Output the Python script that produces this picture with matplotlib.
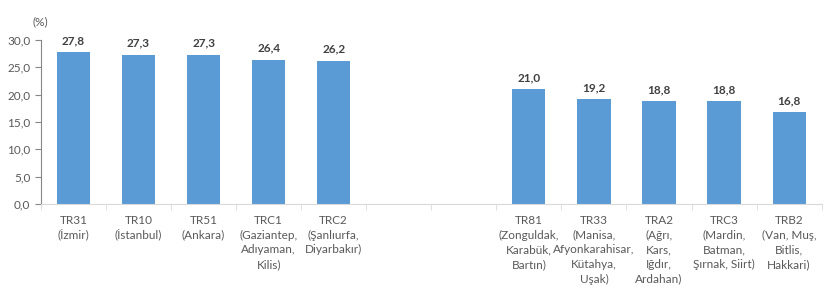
import numpy as np
import matplotlib.pyplot as plt
from matplotlib.ticker import FuncFormatter, FixedLocator

plt.rcParams['font.family'] = ['Lato', 'DejaVu Sans']

# data
labels = ['TR31\n(İzmir)', 'TR10\n(İstanbul)', 'TR51\n(Ankara)',
          'TRC1\n(Gaziantep,\nAdıyaman,\nKilis)', 'TRC2\n(Şanlıurfa,\nDiyarbakır)',
          '', '',
          'TR81\n(Zonguldak,\nKarabük,\nBartın)',
          'TR33\n(Manisa,\nAfyonkarahisar,\nKütahya,\nUşak)',
          'TRA2\n(Ağrı,\nKars,\nIğdır,\nArdahan)',
          'TRC3\n(Mardin,\nBatman,\nŞırnak, Siirt)',
          'TRB2\n(Van, Muş,\nBitlis,\nHakkari)']
values = [27.8, 27.3, 27.3, 26.4, 26.2, None, None, 21.0, 19.2, 18.8, 18.8, 16.8]

fig = plt.figure(figsize=(8.35, 2.94), dpi=100)
ax = fig.add_axes([0.049, 0.306, 0.935, 0.558])

x = np.arange(len(labels))
for xi, v in zip(x, values):
    if v is None:
        continue
    ax.bar(xi, v, width=0.51, color='#5B9BD5')
    ax.text(xi, v + 1.1, f'{v:.1f}'.replace('.', ','), ha='center', va='bottom',
            fontsize=8.5, fontweight='bold', color='#404040')

ax.set_xlim(-0.5, len(labels) - 0.5)
ax.set_ylim(0, 30)
ax.set_yticks(np.arange(0, 30.1, 5))
ax.yaxis.set_major_formatter(FuncFormatter(lambda v, p: f'{v:.1f}'.replace('.', ',')))

ax.set_xticks(x)
ax.set_xticklabels(labels, fontsize=8.5, color='#595959', linespacing=1.4)
ax.xaxis.set_minor_locator(FixedLocator(np.arange(-0.5, len(labels), 1)))
ax.tick_params(axis='x', which='major', length=0, pad=8)
ax.tick_params(axis='x', which='minor', length=4, color='#D9D9D9')
ax.tick_params(axis='y', length=4, color='#868686', labelsize=8.5, labelcolor='#595959')

for s in ['top', 'right']:
    ax.spines[s].set_visible(False)
ax.spines['left'].set_color('#868686')
ax.spines['bottom'].set_color('#D9D9D9')

fig.text(0.048, 0.925, '(%)', fontsize=8.5, color='#595959', ha='center', va='center')

fig.savefig('out.png', dpi=100)
